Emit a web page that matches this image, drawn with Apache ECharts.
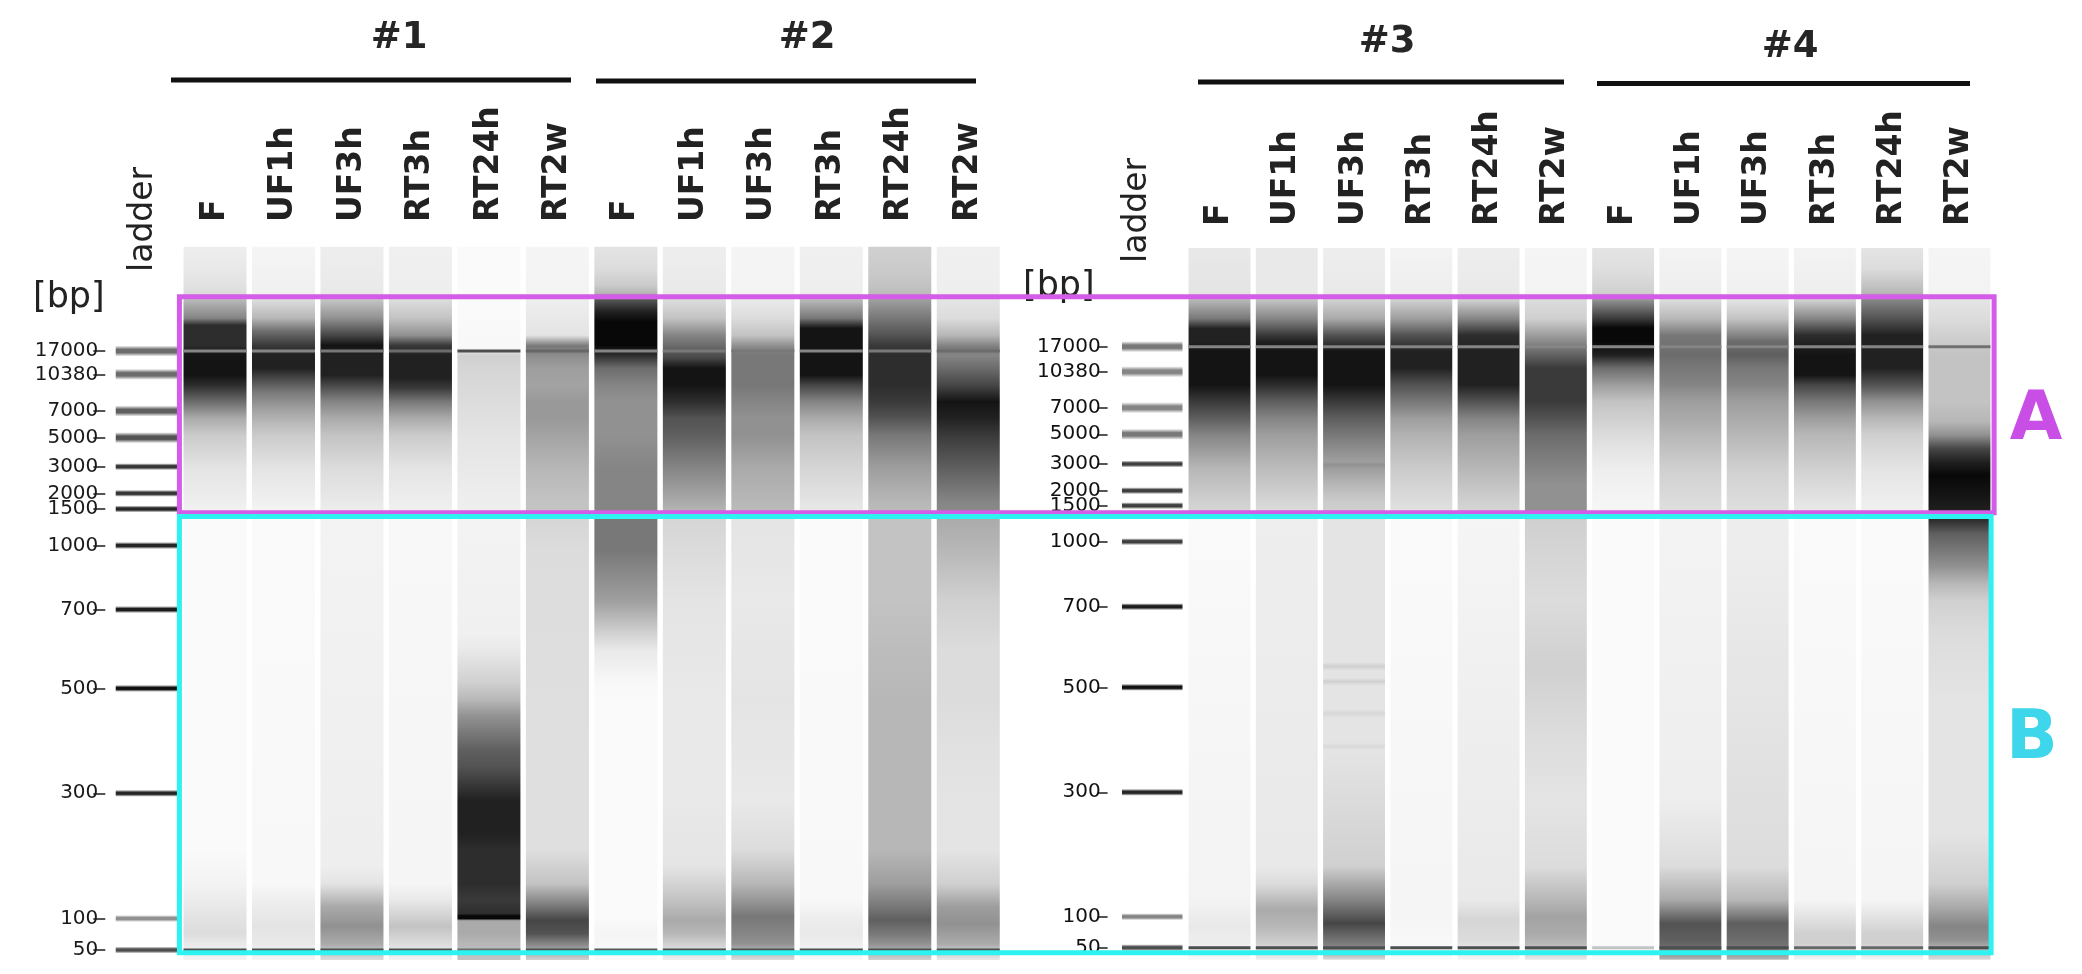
<!DOCTYPE html>
<html><head><meta charset="utf-8">
<script src="https://cdn.jsdelivr.net/npm/echarts@6/dist/echarts.min.js"></script>
<style>html,body{margin:0;padding:0;background:#fff}#c{width:2082px;height:974px}</style>
</head><body><div id="c"></div>
<script>
// ================= DATA =================
// lane names (x categories), identical for both gels
const laneNames = ['ladder','F','UF1h','UF3h','RT3h','RT24h','RT2w','F','UF1h','UF3h','RT3h','RT24h','RT2w'];
const groupTitles = ['#1','#2','#3','#4'];
const regionNames = ['A','B'];
// region extents in migration units (0 = top of gel, 100 = bottom)
const regionFrom = [7.1, 37.9];
const regionTo = [37.35, 98.97];

// ladder sizes [bp] and their migration distance (units) in each gel
const ladderSizes = [17000,10380,7000,5000,3000,2000,1500,1000,700,500,300,100,50];
const ladderPosLeft  = [14.71,17.97,23.11,26.85,30.91,34.64,36.83,41.95,50.92,61.96,76.65,94.19,98.6];
const ladderPosRight = [14.52,18.03,23.07,26.79,30.95,34.69,36.79,41.83,50.94,62.23,76.93,94.36,98.7];
const ladderDarkLeft  = [0.6,0.6,0.65,0.7,0.82,0.82,0.88,0.88,0.92,0.96,0.88,0.45,0.72];
const ladderDarkRight = [0.55,0.5,0.5,0.55,0.78,0.78,0.78,0.78,0.92,0.96,0.88,0.5,0.72];

// internal markers (upper 17000 bp line, lower 50 bp line): darkness per lane
const upperMarkerLeft  = [0.5,0.5,0.55,0.6,0.72,0.62,0.5,0.55,0.55,0.5,0.55,0.6];
const lowerMarkerLeft  = [0.72,0.72,0.72,0.72,0.6,0.72,0.68,0.72,0.72,0.72,0.72,0.72];
const upperMarkerRight = [0.5,0.5,0.5,0.5,0.5,0.5,0.5,0.5,0.5,0.5,0.5,0.58];
const lowerMarkerRight = [0.72,0.72,0.72,0.72,0.72,0.72,0.25,0.72,0.72,0.62,0.62,0.72];

// lane density profiles: [migration, darkness 0..1]
// --- sample #1 ---
const s1_F = [[0.1,0.08],[3.1,0.1],[5.5,0.13],[6.6,0.15],[7.1,0.2],[7.6,0.3],[10.1,0.5],[11.1,0.85],[13.9,0.85],[15.3,0.95],[18.1,0.95],[19.5,0.85],[21.8,0.6],[24.1,0.35],[26.5,0.22],[31.1,0.12],[35.8,0.08],[37.4,0.06],[37.9,0.03],[84.6,0.03],[89.3,0.06],[93.9,0.12],[96.3,0.15],[97.7,0.1],[100,0.06]];
const s1_UF1h = [[0.1,0.05],[6.6,0.07],[7.6,0.15],[10.1,0.3],[12.0,0.6],[13.9,0.8],[15.3,0.9],[17.1,0.9],[18.5,0.75],[20.4,0.55],[22.7,0.4],[24.6,0.3],[26.5,0.22],[31.1,0.12],[35.8,0.07],[37.4,0.05],[37.9,0.03],[89.3,0.04],[91.6,0.08],[95.3,0.12],[97.7,0.1],[100,0.05]];
const s1_UF3h = [[0.1,0.08],[6.6,0.1],[7.6,0.25],[10.1,0.45],[12.5,0.75],[13.9,0.95],[15.3,0.9],[18.1,0.9],[19.9,0.7],[21.8,0.5],[24.1,0.35],[26.5,0.25],[31.1,0.15],[35.8,0.1],[37.4,0.08],[37.9,0.06],[86.9,0.08],[89.3,0.12],[92.5,0.35],[95.3,0.45],[97.7,0.35],[100,0.15]];
const s1_RT3h = [[0.1,0.07],[6.6,0.08],[7.6,0.15],[10.1,0.25],[12.5,0.45],[13.9,0.8],[15.3,0.9],[18.5,0.9],[19.9,0.8],[21.8,0.55],[24.1,0.35],[26.5,0.22],[31.1,0.12],[35.8,0.08],[37.4,0.07],[37.9,0.04],[89.3,0.05],[91.6,0.1],[95.3,0.25],[97.7,0.15],[100,0.06]];
const s1_RT24h = [[0.1,0.02],[6.6,0.02],[7.6,0.03],[14.3,0.04],[15.3,0.2],[17.1,0.18],[21.8,0.15],[26.5,0.12],[31.1,0.1],[35.8,0.08],[37.4,0.08],[37.9,0.06],[54.2,0.07],[56.6,0.1],[61.2,0.2],[63.6,0.3],[65.9,0.45],[68.3,0.55],[70.6,0.65],[72.9,0.7],[75.3,0.8],[77.6,0.9],[82.3,0.9],[84.6,0.85],[89.3,0.85],[91.6,0.8],[93.5,0.85],[93.8,1.0],[94.2,1.0],[94.5,0.35],[96.3,0.35],[97.7,0.3],[100,0.25]];
const s1_RT2w = [[0.1,0.05],[6.6,0.06],[7.6,0.08],[12.5,0.12],[14.0,0.55],[15.7,0.45],[17.1,0.4],[19.5,0.38],[21.8,0.42],[24.1,0.42],[26.5,0.38],[31.1,0.3],[35.8,0.25],[37.4,0.25],[37.9,0.18],[42.6,0.15],[70.6,0.14],[84.6,0.14],[89.3,0.25],[92.5,0.55],[94.4,0.75],[96.3,0.7],[97.7,0.5],[100,0.2]];
// --- sample #2 ---
const s2_F = [[0.1,0.12],[3.1,0.15],[5.5,0.22],[6.6,0.3],[7.1,0.5],[7.6,0.7],[9.2,0.9],[10.6,1.0],[13.9,1.0],[15.3,0.85],[17.1,0.6],[19.5,0.5],[21.8,0.45],[26.5,0.45],[31.1,0.5],[37.4,0.5],[37.9,0.55],[42.6,0.55],[47.2,0.45],[49.6,0.4],[51.9,0.3],[54.2,0.2],[56.6,0.1],[61.2,0.04],[63.6,0.02],[93.9,0.03],[96.3,0.05],[100,0.03]];
const s2_UF1h = [[0.1,0.08],[6.6,0.1],[7.6,0.15],[10.1,0.25],[12.5,0.5],[13.9,0.6],[15.7,0.75],[17.1,0.95],[19.5,0.95],[21.8,0.85],[24.1,0.7],[26.5,0.65],[31.1,0.5],[35.8,0.35],[37.4,0.3],[37.9,0.18],[49.6,0.12],[63.6,0.1],[77.6,0.1],[86.9,0.12],[91.6,0.25],[94.4,0.35],[96.3,0.3],[97.7,0.2],[100,0.08]];
const s2_UF3h = [[0.1,0.05],[6.6,0.06],[7.6,0.1],[10.1,0.15],[12.5,0.25],[14.3,0.5],[15.3,0.55],[19.5,0.55],[21.8,0.5],[24.1,0.45],[26.5,0.45],[31.1,0.35],[35.8,0.3],[37.4,0.28],[37.9,0.12],[49.6,0.1],[63.6,0.12],[77.6,0.1],[84.6,0.15],[89.3,0.3],[93.9,0.55],[96.3,0.5],[97.7,0.45],[100,0.15]];
const s2_RT3h = [[0.1,0.07],[6.6,0.08],[7.6,0.3],[10.1,0.55],[11.5,0.95],[18.1,0.95],[19.5,0.75],[21.8,0.5],[24.1,0.35],[26.5,0.25],[31.1,0.18],[35.8,0.12],[37.4,0.1],[37.9,0.03],[91.6,0.04],[93.9,0.08],[96.3,0.1],[97.7,0.08],[100,0.04]];
const s2_RT24h = [[0.1,0.2],[3.1,0.22],[5.5,0.25],[6.6,0.28],[7.6,0.4],[10.1,0.55],[12.5,0.7],[13.9,0.8],[15.3,0.85],[19.5,0.85],[21.8,0.8],[24.1,0.7],[26.5,0.55],[31.1,0.4],[35.8,0.3],[37.4,0.28],[37.9,0.25],[49.6,0.25],[56.6,0.28],[63.6,0.3],[84.6,0.3],[89.3,0.4],[92.5,0.55],[94.4,0.65],[96.3,0.55],[97.7,0.45],[100,0.2]];
const s2_RT2w = [[0.1,0.07],[6.6,0.08],[7.6,0.12],[10.1,0.15],[12.5,0.3],[14.3,0.55],[15.3,0.5],[17.1,0.6],[19.5,0.75],[21.8,0.95],[24.1,0.9],[26.5,0.8],[31.1,0.65],[35.8,0.5],[37.4,0.48],[37.9,0.35],[42.6,0.3],[49.6,0.2],[56.6,0.15],[63.6,0.15],[70.6,0.13],[77.6,0.12],[84.6,0.12],[89.3,0.2],[92.5,0.4],[94.9,0.45],[97.7,0.35],[100,0.1]];
// --- sample #3 ---
const s3_F = [[0.7,0.1],[7.0,0.12],[8.0,0.3],[10.6,0.55],[12.0,0.9],[13.8,0.9],[15.2,0.95],[19.9,0.95],[22.2,0.8],[24.6,0.65],[26.9,0.5],[29.2,0.4],[31.6,0.3],[36.2,0.2],[37.8,0.18],[38.8,0.03],[92.0,0.06],[95.7,0.1],[98.1,0.08],[100.4,0.04]];
const s3_UF1h = [[0.7,0.1],[7.0,0.1],[8.0,0.25],[10.6,0.5],[12.9,0.8],[13.8,0.9],[15.2,0.95],[18.5,0.95],[19.9,0.85],[22.2,0.65],[24.6,0.5],[26.9,0.4],[31.6,0.28],[36.2,0.18],[37.8,0.15],[38.8,0.08],[87.3,0.1],[89.7,0.15],[93.4,0.35],[95.7,0.3],[98.1,0.2],[100.4,0.08]];
const s3_UF3h = [[0.7,0.08],[7.0,0.1],[8.0,0.2],[10.6,0.35],[12.9,0.7],[15.2,0.95],[19.9,0.95],[22.2,0.8],[24.6,0.65],[26.9,0.55],[29.2,0.45],[30.6,0.4],[31.1,0.45],[31.6,0.4],[33.9,0.3],[36.2,0.22],[37.8,0.2],[38.8,0.12],[58.7,0.12],[59.3,0.2],[59.9,0.12],[60.9,0.12],[61.4,0.2],[62.0,0.12],[65.3,0.12],[65.9,0.17],[66.5,0.12],[70.0,0.12],[70.5,0.16],[71.0,0.12],[87.3,0.2],[92.0,0.5],[95.3,0.75],[97.2,0.6],[98.6,0.5],[100.4,0.15]];
const s3_RT3h = [[0.7,0.06],[7.0,0.08],[8.0,0.2],[10.6,0.4],[12.9,0.7],[15.2,0.9],[17.5,0.9],[19.9,0.7],[22.2,0.55],[24.6,0.4],[26.9,0.32],[31.6,0.22],[36.2,0.15],[37.8,0.13],[38.8,0.03],[94.3,0.05],[100.4,0.03]];
const s3_RT24h = [[0.7,0.08],[7.0,0.1],[8.0,0.2],[10.6,0.5],[12.9,0.85],[15.2,0.9],[19.9,0.9],[22.2,0.7],[24.6,0.5],[26.9,0.4],[31.6,0.3],[36.2,0.2],[37.8,0.18],[38.8,0.05],[92.0,0.1],[94.8,0.18],[97.6,0.15],[100.4,0.05]];
const s3_RT2w = [[0.7,0.05],[7.0,0.06],[8.0,0.15],[10.6,0.2],[12.9,0.4],[15.2,0.6],[17.5,0.8],[22.2,0.8],[24.6,0.7],[26.9,0.6],[31.6,0.5],[33.9,0.45],[37.8,0.45],[38.8,0.2],[50.0,0.15],[59.3,0.2],[68.7,0.15],[78.0,0.12],[87.3,0.15],[92.0,0.3],[94.3,0.38],[96.7,0.35],[98.1,0.3],[100.4,0.1]];
// --- sample #4 ---
const s4_F = [[0.7,0.12],[3.6,0.14],[7.0,0.2],[8.0,0.45],[10.6,0.8],[11.9,1.0],[13.8,1.0],[15.7,0.9],[17.5,0.6],[19.9,0.4],[22.2,0.25],[26.9,0.15],[31.6,0.08],[36.2,0.05],[37.8,0.05],[38.8,0.02],[100.4,0.02]];
const s4_UF1h = [[0.7,0.06],[7.0,0.08],[8.0,0.15],[10.6,0.3],[12.9,0.55],[15.7,0.6],[17.5,0.55],[19.9,0.5],[22.2,0.4],[24.6,0.35],[26.9,0.3],[31.6,0.2],[36.2,0.15],[37.8,0.14],[38.8,0.06],[78.0,0.08],[87.3,0.15],[92.0,0.35],[95.3,0.7],[97.6,0.65],[98.8,0.6],[100.4,0.3]];
const s4_UF3h = [[0.7,0.05],[7.0,0.07],[8.0,0.12],[10.6,0.25],[12.9,0.5],[13.8,0.6],[15.7,0.65],[17.5,0.55],[19.9,0.5],[22.2,0.4],[26.9,0.3],[31.6,0.2],[36.2,0.15],[37.8,0.14],[38.8,0.08],[87.3,0.15],[92.0,0.3],[95.3,0.65],[97.6,0.6],[98.8,0.55],[100.4,0.3]];
const s4_RT3h = [[0.7,0.06],[7.0,0.08],[8.0,0.2],[10.6,0.5],[12.9,0.85],[15.7,0.95],[18.5,0.95],[19.9,0.75],[22.2,0.55],[24.6,0.4],[26.9,0.3],[31.6,0.2],[36.2,0.12],[37.8,0.1],[38.8,0.03],[92.0,0.05],[94.3,0.12],[96.7,0.2],[98.1,0.2],[100.4,0.05]];
const s4_RT24h = [[0.7,0.12],[3.6,0.15],[6.0,0.25],[7.0,0.3],[8.0,0.5],[10.6,0.7],[12.9,0.9],[15.7,0.9],[17.5,0.9],[19.9,0.7],[22.2,0.45],[24.6,0.3],[26.9,0.2],[31.6,0.12],[36.2,0.08],[37.8,0.07],[38.8,0.03],[92.0,0.05],[94.3,0.12],[96.7,0.2],[98.1,0.2],[100.4,0.05]];
const s4_RT2w = [[0.7,0.05],[7.0,0.06],[8.0,0.12],[10.6,0.15],[12.9,0.2],[15.7,0.25],[22.2,0.25],[25.0,0.3],[26.9,0.45],[28.8,0.75],[30.6,0.9],[32.5,1.0],[35.3,0.95],[37.8,0.9],[38.8,0.85],[40.7,0.65],[43.0,0.55],[45.3,0.45],[47.7,0.3],[50.0,0.2],[54.7,0.15],[64.0,0.12],[82.7,0.12],[89.7,0.2],[93.0,0.35],[95.7,0.5],[97.6,0.45],[100.4,0.15]];

const profilesLeft  = [s1_F,s1_UF1h,s1_UF3h,s1_RT3h,s1_RT24h,s1_RT2w,s2_F,s2_UF1h,s2_UF3h,s2_RT3h,s2_RT24h,s2_RT2w];
const profilesRight = [s3_F,s3_UF1h,s3_UF3h,s3_RT3h,s3_RT24h,s3_RT2w,s4_F,s4_UF1h,s4_UF3h,s4_RT3h,s4_RT24h,s4_RT2w];

// ================= RENDERING =================
const LANE_FILL = 0.92;
function gray(d, a) {
  const e = Math.max(0, (d - 0.03) / 0.97);
  const g = Math.round(250 - 242 * e);
  return a === undefined ? `rgb(${g},${g},${g})` : `rgba(${g},${g},${g},${a})`;
}
function laneRenderer(profiles, upper, lower, ladderPos) {
  const upPos = ladderPos[ladderSizes.indexOf(17000)];
  const loPos = ladderPos[ladderSizes.indexOf(50)];
  return function (params, api) {
    const i = params.dataIndex;
    const prof = profiles[i];
    const xi = api.value(0);
    const w = api.size([1, 0])[0] * LANE_FILL;
    const u0 = prof[0][0], u1 = prof[prof.length - 1][0];
    const top = api.coord([xi, u0]);
    const bot = api.coord([xi, u1]);
    const stops = prof.map(p => ({ offset: (p[0] - u0) / (u1 - u0), color: gray(p[1]) }));
    const x0 = top[0] - w / 2;
    const up = api.coord([xi, upPos]);
    const lo = api.coord([xi, loPos]);
    return {
      type: 'group',
      children: [
        { type: 'rect', shape: { x: x0, y: top[1], width: w, height: bot[1] - top[1] },
          style: { fill: new echarts.graphic.LinearGradient(0, 0, 0, 1, stops) } },
        { type: 'rect', shape: { x: x0, y: up[1] - 1.5, width: w, height: 3 }, style: { fill: gray(upper[i]) } },
        { type: 'rect', shape: { x: x0, y: lo[1] - 1.5, width: w, height: 3 }, style: { fill: gray(lower[i]) } }
      ]
    };
  };
}
function ladderRenderer(pos, dark) {
  return function (params, api) {
    const i = params.dataIndex;
    const c = api.coord([0, pos[i]]);
    const w = api.size([1, 0])[0] * 0.9;
    const h = pos[i] < 30 ? 11 : 7;
    const d = dark[i];
    return {
      type: 'rect',
      shape: { x: c[0] - w / 2, y: c[1] - h / 2, width: w, height: h },
      style: { fill: new echarts.graphic.LinearGradient(0, 0, 0, 1, [
        { offset: 0, color: gray(d, 0) }, { offset: 0.35, color: gray(d) },
        { offset: 0.65, color: gray(d) }, { offset: 1, color: gray(d, 0) }]) }
    };
  };
}
function sizeLabel(positions) {
  return function (v) {
    for (let k = 0; k < positions.length; k++) if (Math.abs(positions[k] - v) < 1e-6) return String(ladderSizes[k]);
    return '';
  };
}
function xAxisCfg(gi, margin) {
  return {
    gridIndex: gi, type: 'category', data: laneNames, position: 'top',
    axisLine: { show: false }, axisTick: { show: false }, splitLine: { show: false },
    axisLabel: { interval: 0, rotate: 90, margin: margin, fontFamily: 'DejaVu Sans', fontWeight: 'bold',
      fontSize: 33, color: '#222', formatter: v => (v === 'ladder' ? '' : v) }
  };
}
function yAxisCfg(gi, pos, offset, tickLen, color) {
  return {
    gridIndex: gi, type: 'value', min: 0, max: 100, inverse: true, offset: offset,
    axisLine: { show: false }, splitLine: { show: false },
    axisTick: { show: true, length: tickLen, customValues: pos, lineStyle: { color: '#555', width: 2 } },
    axisLabel: { customValues: pos, margin: 7, fontFamily: 'DejaVu Sans', fontSize: 20, color: color,
      formatter: sizeLabel(pos), hideOverlap: false }
  };
}
const laneData = profilesLeft.map((p, k) => [k + 1, 50]);
const ladderDataL = ladderPosLeft.map(p => [0, p]);
const ladderDataR = ladderPosRight.map(p => [0, p]);

const chart = echarts.init(document.getElementById('c'), null, { renderer: 'canvas' });
chart.setOption({
  animation: false,
  backgroundColor: '#ffffff',
  grid: [
    { left: 112.3, top: 246, width: 890.2, height: 714 },
    { left: 1118.6, top: 243, width: 874.5, height: 714 }
  ],
  xAxis: [xAxisCfg(0, 24), xAxisCfg(1, 17)],
  yAxis: [yAxisCfg(0, ladderPosLeft, 7, 12, '#1a1a1a'), yAxisCfg(1, ladderPosRight, 11, 10, '#111')],
  series: [
    { type: 'custom', xAxisIndex: 0, yAxisIndex: 0, clip: false, data: laneData.map(d => d.slice()),
      encode: { x: 0, y: 1 }, renderItem: laneRenderer(profilesLeft, upperMarkerLeft, lowerMarkerLeft, ladderPosLeft) },
    { type: 'custom', xAxisIndex: 1, yAxisIndex: 1, clip: false, data: laneData.map(d => d.slice()),
      encode: { x: 0, y: 1 }, renderItem: laneRenderer(profilesRight, upperMarkerRight, lowerMarkerRight, ladderPosRight) },
    { type: 'custom', xAxisIndex: 0, yAxisIndex: 0, clip: false, data: ladderDataL,
      encode: { x: 0, y: 1 }, renderItem: ladderRenderer(ladderPosLeft, ladderDarkLeft) },
    { type: 'custom', xAxisIndex: 1, yAxisIndex: 1, clip: false, data: ladderDataR,
      encode: { x: 0, y: 1 }, renderItem: ladderRenderer(ladderPosRight, ladderDarkRight) }
  ]
});

// ---------- annotations (computed from the axes) ----------
const px = (gi, cat, u) => chart.convertToPixel({ xAxisIndex: gi, yAxisIndex: gi }, [cat, u]);
const pitchL = 890.2 / 13, pitchR = 874.5 / 13;
const boxLeft = px(0, 1, 0)[0] - pitchL * 0.52;
const boxRight = px(1, 12, 0)[0] + pitchR * 0.515;
const regionColors = ['#d35ce8', '#2ef2f2'];
const regionTextColors = ['#c94ee6', '#3ed6ea'];
const regionTextPos = [[2036, 421], [2032, 740]];
const graphics = [];
regionNames.forEach((name, k) => {
  const y0 = px(0, 1, regionFrom[k])[1];
  const y1 = px(0, 1, regionTo[k])[1];
  graphics.push({ type: 'rect', z: 100, shape: { x: boxLeft, y: y0, width: (k === 0 ? boxRight : boxRight - 3) - boxLeft, height: y1 - y0 },
    style: { fill: 'none', stroke: regionColors[k], lineWidth: 5 } });
  graphics.push({ type: 'text', z: 100, x: regionTextPos[k][0], y: regionTextPos[k][1],
    style: { text: name, font: 'bold 68px "DejaVu Sans"', fill: regionTextColors[k], textAlign: 'center', textVerticalAlign: 'middle' } });
});
// group headers
const titlePos = [[399, 38], [807, 38], [1387, 42], [1790, 47]];
const linePos = [[171, 571, 80], [596, 976, 81], [1198, 1564, 82], [1597, 1970, 83.5]];
groupTitles.forEach((t, k) => {
  graphics.push({ type: 'text', x: titlePos[k][0], y: titlePos[k][1],
    style: { text: t, font: 'bold 37px "DejaVu Sans"', fill: '#262626', textAlign: 'center', textVerticalAlign: 'middle' } });
  graphics.push({ type: 'line', shape: { x1: linePos[k][0], y1: linePos[k][2], x2: linePos[k][1], y2: linePos[k][2] },
    style: { stroke: '#111', lineWidth: 5 } });
});
// "ladder" captions and [bp] units
const ladL = px(0, 0, 0), ladR = px(1, 0, 0);
graphics.push({ type: 'text', x: ladL[0] - 3, y: 272, rotation: Math.PI / 2,
  style: { text: 'ladder', font: '33px "DejaVu Sans"', fill: '#222', textAlign: 'left', textVerticalAlign: 'middle' } });
graphics.push({ type: 'text', x: ladR[0] - 15, y: 263, rotation: Math.PI / 2,
  style: { text: 'ladder', font: '33px "DejaVu Sans"', fill: '#222', textAlign: 'left', textVerticalAlign: 'middle' } });
graphics.push({ type: 'text', x: 33, y: 298,
  style: { text: '[bp]', font: '35px "DejaVu Sans"', fill: '#222', textAlign: 'left', textVerticalAlign: 'middle' } });
graphics.push({ type: 'text', x: 1023, y: 287, z: 50,
  style: { text: '[bp]', font: '35px "DejaVu Sans"', fill: '#222', textAlign: 'left', textVerticalAlign: 'middle' } });
chart.setOption({ graphic: { elements: graphics } });
</script>
</body></html>
